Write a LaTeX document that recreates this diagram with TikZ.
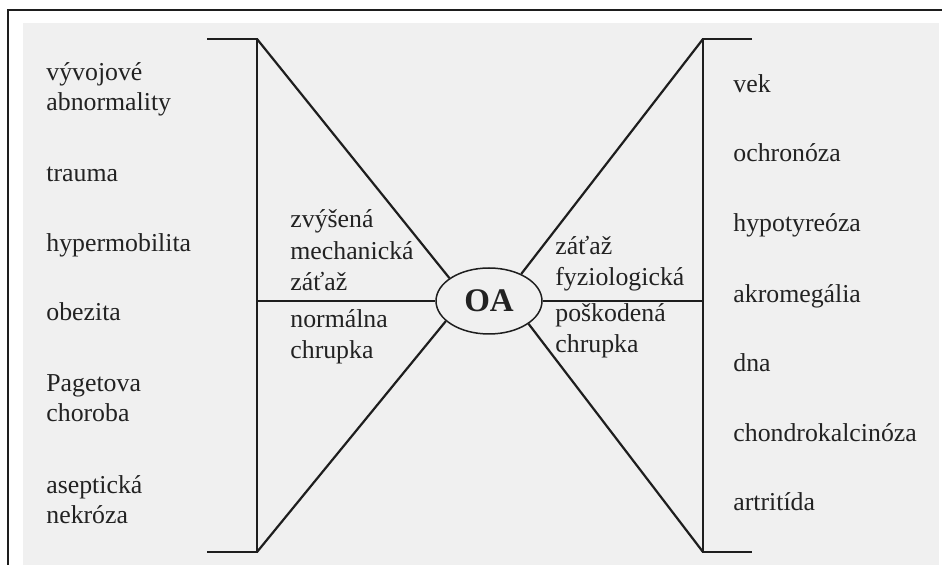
\documentclass[tikz,border=0pt]{standalone}
\usepackage{fontspec}
\setmainfont{Liberation Serif}
\usetikzlibrary{shapes.geometric}
\definecolor{bg}{HTML}{F0F0F0}
\definecolor{ink}{HTML}{1E1E1E}
\definecolor{txt}{HTML}{222222}
\begin{document}
\begin{tikzpicture}[x=0.5pt,y=-0.5pt,
  lbl/.style={anchor=base west, inner sep=0pt, align=left, text=txt,
    font=\fontsize{12.9}{15}\selectfont},
  mid/.style={lbl, font=\fontsize{12.9}{15.8}\selectfont},
  bracket/.style={draw=ink, line width=1.3pt},
  spoke/.style={draw=ink, line width=1.1pt},
  oval/.style={ellipse, draw=ink, line width=0.75pt, fill=bg, inner sep=0pt,
    minimum width=53pt, minimum height=33pt, text=txt,
    font=\fontsize{16.5}{18}\selectfont\bfseries}]
\useasboundingbox (0,0) rectangle (942,565);
\fill[white] (0,0) rectangle (942,565);
\fill[bg] (23,23) rectangle (939,565);
\draw[ink, line width=1pt] (8,566) -- (8,10) -- (943,10);

% bracket corners
\coordinate (LTe) at (207,39);
\coordinate (LT) at (257,39);
\coordinate (LB) at (257,552);
\coordinate (LBe) at (207,552);
\coordinate (LM) at (257,301);
\coordinate (RTe) at (752,39);
\coordinate (RT) at (703,39);
\coordinate (RB) at (703,552);
\coordinate (RBe) at (752,552);
\coordinate (RM) at (703,301);

\node[oval] (oa) at (489,301) {OA};

\draw[bracket] (LTe) -- (LT) -- (LB) -- (LBe);
\draw[bracket] (RTe) -- (RT) -- (RB) -- (RBe);
\draw[spoke] (LT) -- (oa.150);
\draw[spoke] (LB) -- (oa.205);
\draw[spoke] (RT) -- (oa.40);
\draw[spoke] (RB) -- (oa.330);
\draw[spoke] (LM) -- (oa.west);
\draw[spoke] (oa.east) -- (RM);

% left column (base anchor = last line baseline)
\node[lbl] (l1) at (46,111) {vývojové\\abnormality};
\node[lbl] (l2) at (46,182) {trauma};
\node[lbl] (l3) at (46,252) {hypermobilita};
\node[lbl] (l4) at (46,321) {obezita};
\node[lbl] (l5) at (46,422) {Pagetova\\choroba};
\node[lbl] (l6) at (46,524) {aseptická\\nekróza};

% right column
\node[lbl] (r1) at (733,93) {vek};
\node[lbl] (r2) at (733,162) {ochronóza};
\node[lbl] (r3) at (733,232) {hypotyreóza};
\node[lbl] (r4) at (733,303) {akromegália};
\node[lbl] (r5) at (733,372) {dna};
\node[lbl] (r6) at (733,442) {chondrokalcinóza};
\node[lbl] (r7) at (733,511) {artritída};

% middle labels
\node[mid] (m1) at (290,291) {zvýšená\\mechanická\\záťaž};
\node[mid] (m2) at (290,359) {normálna\\chrupka};
\node[mid] (m3) at (555,286) {záťaž\\fyziologická};
\node[mid] (m4) at (555,353) {poškodená\\chrupka};
\end{tikzpicture}
\end{document}
